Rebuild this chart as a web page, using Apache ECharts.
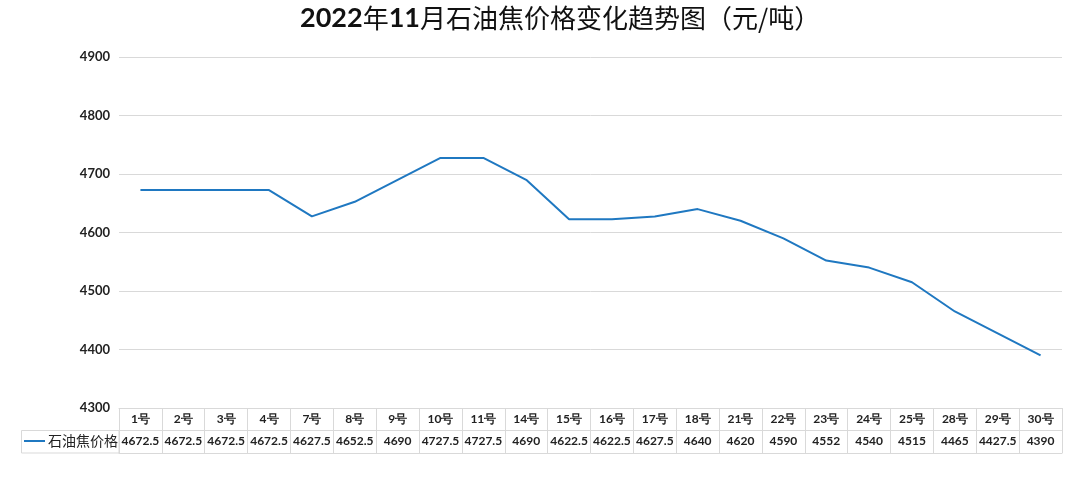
<!DOCTYPE html>
<html>
<head>
<meta charset="utf-8">
<script src="https://cdn.jsdelivr.net/npm/echarts@6/dist/echarts.min.js"></script>
<style>
html,body{margin:0;padding:0;background:#fff;}
#chart{width:1080px;height:480px;}
</style>
</head>
<body>
<div id="chart"></div>
<script>
const dayLabels = ['1号','2号','3号','4号','7号','8号','9号','10号','11号','14号','15号','16号','17号','18号','21号','22号','23号','24号','25号','28号','29号','30号'];
const prices = [4672.5,4672.5,4672.5,4672.5,4627.5,4652.5,4690,4727.5,4727.5,4690,4622.5,4622.5,4627.5,4640,4620,4590,4552,4540,4515,4465,4427.5,4390];
const seriesName = '石油焦价格';
const yTicks = {min: 4300, max: 4900, interval: 100};

const chart = echarts.init(document.getElementById('chart'));
const grid = {left: 119, right: 18, top: 57, bottom: 72};
const lineColor = '#d9d9d9';
const numFont = 'Lato, "Open Sans", sans-serif';
const cjkFont = '"Noto Sans CJK SC", sans-serif';

chart.setOption({
  backgroundColor: '#fff',
  title: {
    text: '{b|2022}年{b|11}月石油焦价格变化趋势图（元/吨）',
    left: 300,
    top: 5,
    padding: 0,
    textStyle: {
      fontSize: 26, fontFamily: cjkFont, fontWeight: 'normal', color: '#111',
      rich: { b: { fontSize: 27, fontWeight: 'bold', fontFamily: numFont, color: '#111' } }
    }
  },
  legend: {
    data: [{name: seriesName, icon: 'rect'}],
    left: 24, top: 434, padding: 0,
    itemWidth: 21, itemHeight: 2, itemGap: 0,
    textStyle: {fontSize: 14, fontFamily: cjkFont, color: '#222', padding: [0,0,0,-2]},
    selectedMode: false
  },
  graphic: [
    {type: 'rect', shape: {x: 21.5, y: 430.5, width: 97.5, height: 22.5}, style: {fill: 'none', stroke: lineColor, lineWidth: 1}, silent: true}
  ],
  grid: grid,
  xAxis: [
    {
      type: 'category', data: dayLabels, boundaryGap: true, position: 'bottom',
      axisLine: {show: true, lineStyle: {color: lineColor}},
      axisTick: {show: true, length: 45, lineStyle: {color: lineColor}},
      axisLabel: {margin: 5, fontSize: 12, fontWeight: 'bold', color: '#222', fontFamily: numFont, interval: 0}
    },
    {
      type: 'category', data: prices.map(String), boundaryGap: true, position: 'bottom', offset: 22,
      axisLine: {show: true, lineStyle: {color: lineColor}},
      axisTick: {show: false},
      axisLabel: {margin: 5, fontSize: 12, fontWeight: 'bold', color: '#222', fontFamily: numFont, interval: 0}
    },
    {
      type: 'category', data: dayLabels, boundaryGap: true, position: 'bottom', offset: 45,
      axisLine: {show: true, lineStyle: {color: lineColor}},
      axisTick: {show: false},
      axisLabel: {show: false}
    }
  ],
  yAxis: {
    type: 'value', min: yTicks.min, max: yTicks.max, interval: yTicks.interval,
    axisLine: {show: false}, axisTick: {show: false},
    axisLabel: {margin: 9, fontSize: 13, fontWeight: 'bold', color: '#222', fontFamily: numFont, formatter: v => String(v)},
    splitLine: {lineStyle: {color: lineColor}}
  },
  series: [{
    name: seriesName, type: 'line', data: prices, xAxisIndex: 0,
    showSymbol: false, symbol: 'none',
    lineStyle: {color: '#1f78c1', width: 2},
    itemStyle: {color: '#1f78c1'}
  }]
});
</script>
</body>
</html>
